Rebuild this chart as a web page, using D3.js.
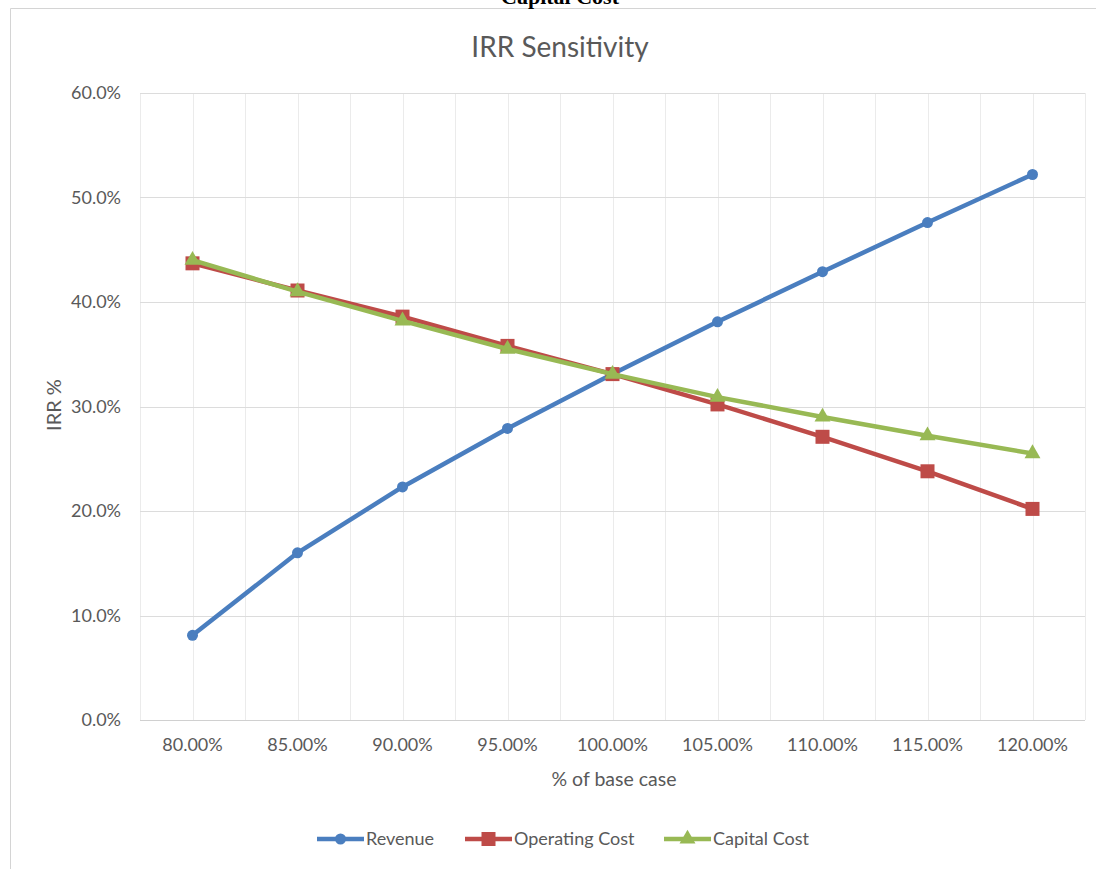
<!DOCTYPE html>
<html>
<head>
<meta charset="utf-8">
<script src="https://cdn.jsdelivr.net/npm/d3@7"></script>
<style>
  html, body { margin: 0; padding: 0; background: #fff; }
  svg { display: block; }
  text { font-family: Lato, "Open Sans", sans-serif; fill: #595959; }
</style>
</head>
<body>
<svg id="chart" width="1096" height="869"></svg>
<script>
// Sensitivity cases (% of base case)
const categories = ["80.00%", "85.00%", "90.00%", "95.00%", "100.00%", "105.00%", "110.00%", "115.00%", "120.00%"];
// IRR % for each sensitivity driver
const revenue       = [8.1, 16.0, 22.3, 27.9, 33.1, 38.1, 42.9, 47.6, 52.2];
const operatingCost = [43.7, 41.1, 38.6, 35.8, 33.1, 30.2, 27.1, 23.8, 20.2];
const capitalCost   = [44.0, 41.0, 38.2, 35.5, 33.1, 30.9, 29.0, 27.2, 25.5];
const yTicks = [0, 10, 20, 30, 40, 50, 60];
const seriesNames = ["Revenue", "Operating Cost", "Capital Cost"];

const series = [
  { name: seriesNames[0], values: revenue,       color: "#4A7EBF", marker: "circle" },
  { name: seriesNames[1], values: operatingCost, color: "#BE4B48", marker: "square" },
  { name: seriesNames[2], values: capitalCost,   color: "#98B954", marker: "triangle" }
];

const svg = d3.select("#chart");
const plot = { left: 140, right: 1085, top: 93, bottom: 720 };

// chart frame
svg.append("path")
  .attr("d", `M10.5,${869}V8.5H1096`)
  .attr("fill", "none").attr("stroke", "#d4d4d4").attr("stroke-width", 1);

// heading of the page above the chart, partly cut off
svg.append("text")
  .attr("x", 560).attr("y", 4)
  .attr("text-anchor", "middle")
  .style("font-family", "'Liberation Serif', 'DejaVu Serif', serif")
  .style("font-weight", "bold").style("font-size", "22px").style("fill", "#000")
  .text("Capital Cost");

const x = d3.scaleBand().domain(categories).range([plot.left, plot.right]);
const y = d3.scaleLinear().domain([0, 60]).range([plot.bottom, plot.top]);

// vertical gridlines at band edges and centres
const grid = svg.append("g");
const vlines = [];
categories.forEach((c, i) => {
  vlines.push({ pos: x(c), major: true });
  vlines.push({ pos: x(c) + x.bandwidth() / 2, major: false });
});
vlines.push({ pos: plot.right, major: true });
grid.selectAll("line.v").data(vlines).join("line")
  .attr("class", "v")
  .attr("x1", d => Math.round(d.pos) + 0.5).attr("x2", d => Math.round(d.pos) + 0.5)
  .attr("y1", plot.top).attr("y2", plot.bottom)
  .attr("stroke", "#ebebeb").attr("stroke-width", 1);

// horizontal gridlines
grid.selectAll("line.h").data(yTicks).join("line")
  .attr("class", "h")
  .attr("x1", plot.left).attr("x2", plot.right)
  .attr("y1", d => Math.round(y(d)) + 0.5).attr("y2", d => Math.round(y(d)) + 0.5)
  .attr("stroke", d => d === 0 ? "#d0d0d0" : "#dcdcdc").attr("stroke-width", 1);

// y axis labels
const yAxis = d3.axisLeft(y).tickValues(yTicks).tickSize(0).tickPadding(19)
  .tickFormat(d => d.toFixed(1) + "%");
const gy = svg.append("g").attr("transform", `translate(${plot.left},0)`).call(yAxis);
gy.select(".domain").remove();
gy.selectAll("text").style("font-size", "18px").style("fill", "#595959")
  .style("font-family", "Lato, 'Open Sans', sans-serif");

// x axis labels
const xAxis = d3.axisBottom(x).tickSize(0).tickPadding(18);
const gx = svg.append("g").attr("transform", `translate(0,${plot.bottom})`).call(xAxis);
gx.select(".domain").remove();
gx.selectAll("text").style("font-size", "18px").style("fill", "#595959")
  .style("font-family", "Lato, 'Open Sans', sans-serif");

// titles
svg.append("text").attr("x", 560).attr("y", 57).attr("text-anchor", "middle")
  .style("font-size", "28px").text("IRR Sensitivity");
svg.append("text").attr("x", 614).attr("y", 786).attr("text-anchor", "middle")
  .style("font-size", "19.5px").text("% of base case");
svg.append("text").attr("transform", "translate(61,405) rotate(-90)").attr("text-anchor", "middle")
  .style("font-size", "20px").text("IRR %");

const cx = c => x(c) + x.bandwidth() / 2;

function drawMarker(g, type, color) {
  if (type === "circle") {
    g.append("circle").attr("r", 5.5).attr("fill", color);
  } else if (type === "square") {
    g.append("rect").attr("x", -7).attr("y", -7).attr("width", 14).attr("height", 14).attr("fill", color);
  } else {
    g.append("path").attr("d", d3.symbol().type(d3.symbolTriangle).size(110)()).attr("fill", color);
  }
}

const line = d3.line().x((d, i) => cx(categories[i])).y(d => y(d));

series.forEach(s => {
  const g = svg.append("g");
  g.append("path").datum(s.values).attr("d", line)
    .attr("fill", "none").attr("stroke", s.color).attr("stroke-width", 4.5)
    .attr("stroke-linejoin", "round").attr("stroke-linecap", "round");
  s.values.forEach((v, i) => {
    const m = g.append("g").attr("transform", `translate(${cx(categories[i])},${y(v)})`);
    drawMarker(m, s.marker, s.color);
  });
});

// legend
const legendX = [317, 465, 664];
series.forEach((s, i) => {
  const g = svg.append("g").attr("transform", `translate(${legendX[i]},839)`);
  g.append("line").attr("x1", 0).attr("x2", 47).attr("y1", 0).attr("y2", 0)
    .attr("stroke", s.color).attr("stroke-width", 4.5);
  const m = g.append("g").attr("transform", "translate(23.5,0)");
  drawMarker(m, s.marker, s.color);
  g.append("text").attr("x", 49).attr("y", 6).style("font-size", "18px").text(s.name);
});
</script>
</body>
</html>
